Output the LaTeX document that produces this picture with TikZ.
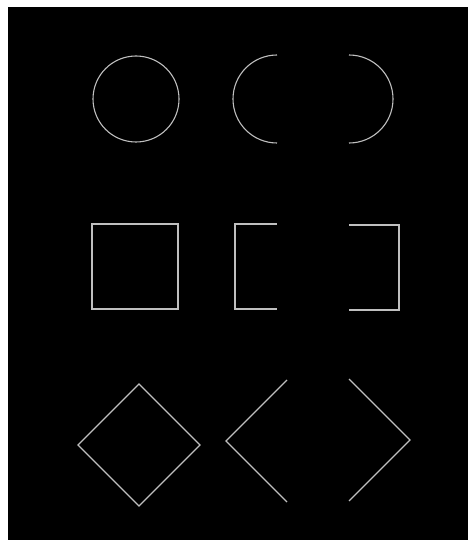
\documentclass[tikz,border=0pt]{standalone}
\usepackage{tikz}

\begin{document}
\begin{tikzpicture}[x=1pt,y=-1pt,outline/.style={draw=lightgray,line width=1.1pt}]
\useasboundingbox (0,0) rectangle (469,540);
\fill[white] (0,0) rectangle (469,540);
\fill[black] (8,7) rectangle (468,540);
% circles
\draw[outline] (136,99) circle[radius=43];
\draw[outline] (277,55) arc[start angle=270,end angle=90,radius=44];
\draw[outline] (349,55) arc[start angle=270,end angle=450,radius=44];
% squares
\draw[outline] (92,224) rectangle (178,309);
\draw[outline] (277,224) -- (235,224) -- (235,309) -- (277,309);
\draw[outline] (349,225) -- (399,225) -- (399,310) -- (349,310);
% diamonds
\draw[outline] (139,384) -- (200,445) -- (139,506) -- (78,445) -- cycle;
\draw[outline] (287,380) -- (226,441) -- (287,502);
\draw[outline] (349,379) -- (410,440) -- (349,501);
\end{tikzpicture}
\end{document}
